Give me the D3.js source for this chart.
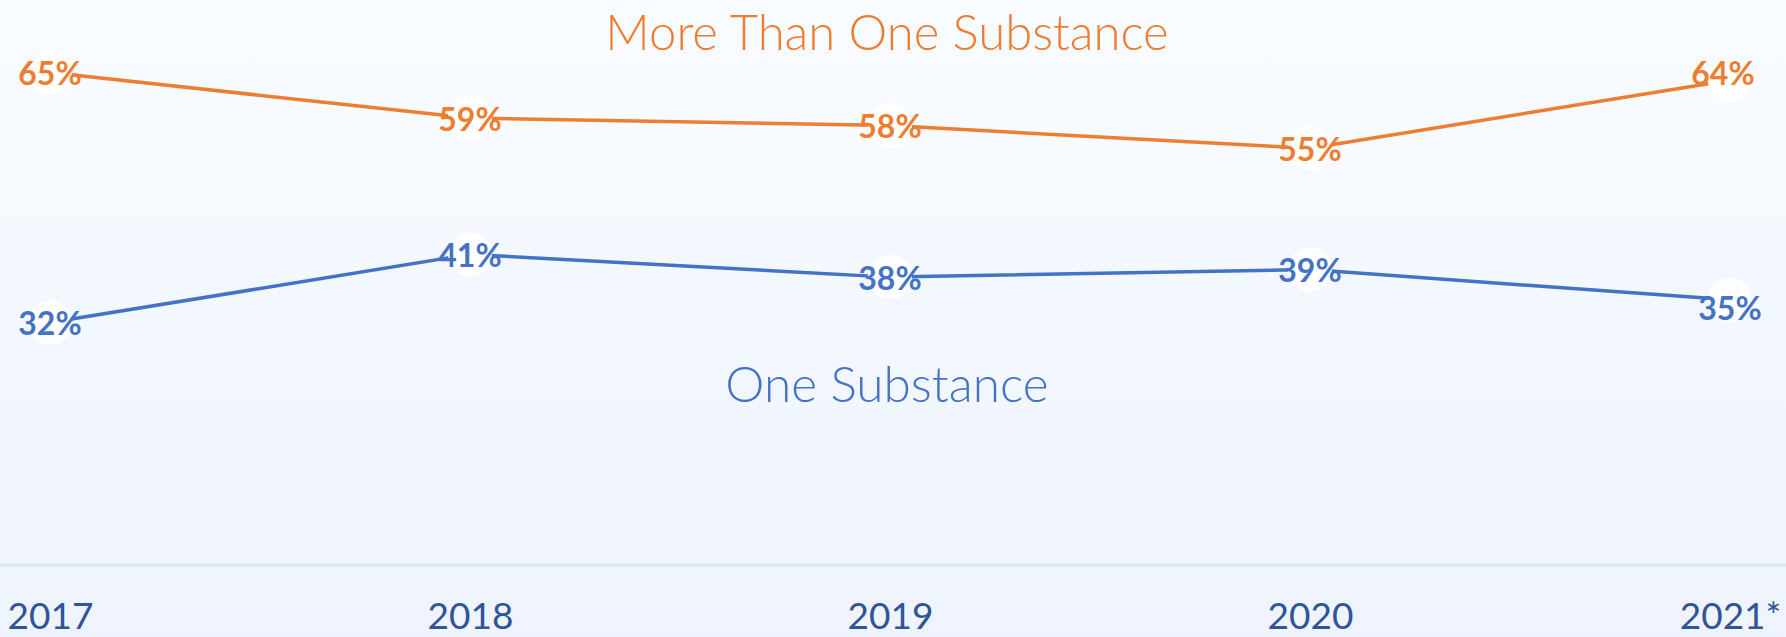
<!DOCTYPE html>
<html>
<head>
<meta charset="utf-8">
<script src="https://cdn.jsdelivr.net/npm/d3@7"></script>
<style>
  html, body { margin: 0; padding: 0; background: #f5f8fe; }
  svg { display: block; }
</style>
</head>
<body>
<svg id="chart" width="1786" height="637"></svg>
<script>
const years = ["2017", "2018", "2019", "2020", "2021*"];
const oneSubstance = [32, 41, 38, 39, 35];
const moreThanOne = [65, 59, 58, 55, 64];
const seriesNames = ["More Than One Substance", "One Substance"];
const seriesColors = ["#ED7D31", "#4472C4"];

const W = 1786, H = 637;
const svg = d3.select("#chart");

// background
const defs = svg.append("defs");
const grad = defs.append("linearGradient").attr("id", "bg").attr("x1", 0).attr("y1", 0).attr("x2", 0).attr("y2", 1);
grad.append("stop").attr("offset", "0%").attr("stop-color", "#f8fbff");
grad.append("stop").attr("offset", "100%").attr("stop-color", "#eef3fd");
svg.append("rect").attr("width", W).attr("height", H).attr("fill", "url(#bg)");
svg.append("rect").attr("width", W).attr("height", 220).attr("fill", "#f8fbff").attr("opacity", 0.5);

const x = d3.scalePoint().domain(years).range([50, 1730]);
const y = d3.scaleLinear().domain([0, 70]).range([565, 34.7]);

// axis baseline
svg.append("line").attr("x1", 0).attr("x2", W).attr("y1", y(0)).attr("y2", y(0))
  .attr("stroke", "#d9e3f2").attr("stroke-width", 2.5);

// x axis labels
const xAxis = d3.axisBottom(x).tickSize(0).tickPadding(0);
const gx = svg.append("g").attr("transform", `translate(0,${y(0)})`).call(xAxis);
gx.select(".domain").remove();
gx.selectAll("text")
  .attr("y", 64)
  .attr("dy", null)
  .attr("font-family", "Lato, 'Open Sans', sans-serif")
  .attr("font-size", 37)
  .attr("fill", "#2F5597")
  .attr("text-anchor", "middle");

const series = [moreThanOne, oneSubstance];
const line = d3.line().x((d, i) => x(years[i])).y(d => y(d));

series.forEach((vals, s) => {
  svg.append("path").datum(vals).attr("d", line)
    .attr("fill", "none").attr("stroke", seriesColors[s]).attr("stroke-width", 3.5)
    .attr("stroke-linejoin", "round");
});
series.forEach((vals, s) => {
  svg.selectAll(null).data(vals).enter().append("circle")
    .attr("cx", (d, i) => x(years[i])).attr("cy", d => y(d)).attr("r", 22)
    .attr("fill", "#ffffff");
});
series.forEach((vals, s) => {
  const last = vals.length - 1;
  svg.selectAll(null).data(vals).enter().append("text")
    .attr("x", (d, i) => x(years[i]) + (i === last && s === 0 ? -7 : 0))
    .attr("y", (d, i) => y(d) + (i === last ? (s === 0 ? -7 : 9) : 1))
    .attr("dy", "0.36em")
    .attr("text-anchor", "middle")
    .attr("font-family", "Lato, 'Open Sans', sans-serif")
    .attr("font-weight", 700)
    .attr("font-size", 32)
    .attr("fill", seriesColors[s])
    .text(d => d + "%");
});

// series titles
svg.append("text").attr("x", 887).attr("y", 50).attr("text-anchor", "middle")
  .attr("font-family", "Lato, 'Open Sans', sans-serif").attr("font-weight", 300)
  .attr("font-size", 49).attr("fill", seriesColors[0]).text(seriesNames[0]);
svg.append("text").attr("x", 887).attr("y", 402).attr("text-anchor", "middle")
  .attr("font-family", "Lato, 'Open Sans', sans-serif").attr("font-weight", 300)
  .attr("font-size", 49.5).attr("fill", seriesColors[1]).text(seriesNames[1]);
</script>
</body>
</html>
